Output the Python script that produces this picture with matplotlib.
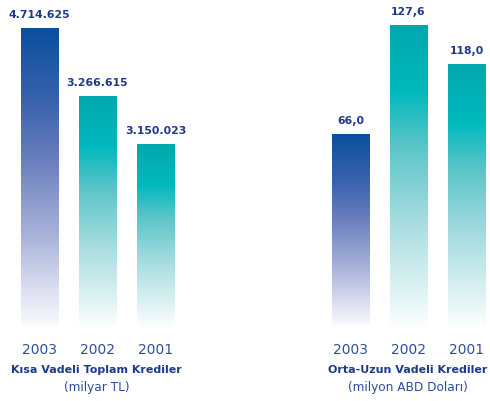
import numpy as np
import matplotlib.pyplot as plt
from matplotlib.colors import LinearSegmentedColormap

# -------------------------------------------------
# Data (bar heights, in drawn units)
# -------------------------------------------------
years = ["2003", "2002", "2001"]

short_labels = ["4.714.625", "3.266.615", "3.150.023"]
short_heights = [298, 230, 182]
short_title = "Kısa Vadeli Toplam Krediler"
short_unit = "(milyar TL)"

long_labels = ["66,0", "127,6", "118,0"]
long_heights = [192, 301, 262]
long_title = "Orta-Uzun Vadeli Krediler"
long_unit = "(milyon ABD Doları)"

# -------------------------------------------------
# Gradients
# -------------------------------------------------
blue_cmap = LinearSegmentedColormap.from_list("blue", [
    (0.0, "#0a4f9e"), (0.25, "#3a63ad"), (0.45, "#6b80be"),
    (0.7, "#aab4da"), (1.0, "#fbfbfe")])
teal_cmap = LinearSegmentedColormap.from_list("teal", [
    (0.0, "#00a8ad"), (0.22, "#00b9bd"), (0.4, "#5ac5c8"),
    (0.65, "#a6dcdf"), (1.0, "#fbfefe")])
cmaps = [blue_cmap, teal_cmap, teal_cmap]

NAVY = "#1f3a8c"
NAVY_LIGHT = "#2e4d9c"

grad = np.linspace(0, 1, 256).reshape(-1, 1)
bar_w = 0.64
ymax = 326

fig = plt.figure(figsize=(4.9, 4.01), dpi=100)
W, H = 490, 401


def draw_group(left_px, labels, heights, title, unit):
    ax = fig.add_axes([left_px / W, (H - 326) / H, 174 / W, 326 / H])
    ax.axis("off")
    for i, (lab, h) in enumerate(zip(labels, heights)):
        ax.imshow(grad, cmap=cmaps[i], aspect="auto", origin="upper",
                  extent=[i - bar_w / 2, i + bar_w / 2, 0, h], zorder=2)
        ax.annotate(lab, (i, h), xytext=(0, 13 * 0.72), textcoords="offset points",
                    ha="center", va="center", fontsize=7.8, fontweight="bold",
                    color=NAVY, annotation_clip=False)
        ax.annotate(years[i], (i, 0), xytext=(0, -24 * 0.72), textcoords="offset points",
                    ha="center", va="center", fontsize=9.9, color=NAVY_LIGHT,
                    annotation_clip=False)
    ax.set_xlim(-0.5, 2.5)
    ax.set_ylim(0, ymax)
    cx = (left_px + 86) / W
    fig.text(cx, (H - 370) / H, title, ha="center", va="center",
             fontsize=8.0, fontweight="bold", color=NAVY)
    fig.text(cx, (H - 387) / H, unit, ha="center", va="center",
             fontsize=8.7, color=NAVY_LIGHT)


draw_group(10.5, short_labels, short_heights, short_title, short_unit)
draw_group(321.5, long_labels, long_heights, long_title, long_unit)

fig.savefig("out.png", dpi=100)
